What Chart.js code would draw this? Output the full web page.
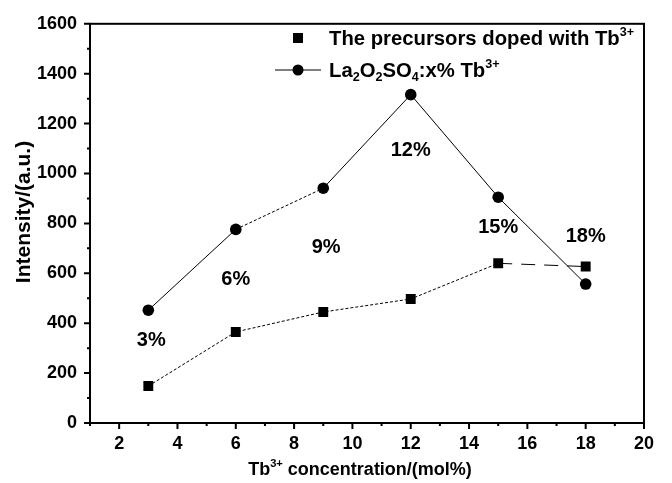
<!DOCTYPE html>
<html>
<head>
<meta charset="utf-8">
<script src="https://cdn.jsdelivr.net/npm/chart.js@4.4.0/dist/chart.umd.min.js"></script>
<style>
  html, body { margin: 0; padding: 0; background: #fff; }
  #wrap { width: 672px; height: 483px; }
</style>
</head>
<body>
<div id="wrap"><canvas id="chart"></canvas></div>
<script>
// Tb3+ concentration (mol%)
const conc = [3, 6, 9, 12, 15, 18];
// intensities
const precursor = [148, 365, 445, 497, 640, 627];
const oxysulfate = [452, 776, 941, 1316, 905, 557];
// percentage labels written inside the plot
const pctLabels = ["3%", "6%", "9%", "12%", "15%", "18%"];
const pctLabelX = [3.1, 6, 9.1, 12, 15, 18];
const pctLabelY = [330, 576, 703, 1092, 782, 746];

const FONT = "'Liberation Sans', Arial, sans-serif";

// text with super/subscripts: [text, 0 normal | 1 sup | -1 sub]
const legendText1 = [["The precursors doped with Tb", 0], ["3+", 1]];
const legendText2 = [["La", 0], ["2", -1], ["O", 0], ["2", -1], ["SO", 0], ["4", -1], [":x% Tb", 0], ["3+", 1]];
const xTitle = [["Tb", 0], ["3+", 1], [" concentration/(mol%)", 0]];
const yTitle = [["Intensity/(a.u.)", 0]];

function richWidth(ctx, parts, size) {
  let w = 0;
  for (const [t, m] of parts) {
    ctx.font = "bold " + (m ? size * 0.62 : size) + "px " + FONT;
    w += ctx.measureText(t).width;
  }
  return w;
}

function drawRich(ctx, parts, x, y, size) {
  ctx.textBaseline = "alphabetic";
  ctx.textAlign = "left";
  for (const [t, m] of parts) {
    const s = m ? size * 0.62 : size;
    ctx.font = "bold " + s + "px " + FONT;
    const dy = m === 1 ? -size * 0.45 : m === -1 ? size * 0.22 : 0;
    ctx.fillText(t, x, y + dy);
    x += ctx.measureText(t).width;
  }
}

const extras = {
  id: "extras",
  afterDraw(chart) {
    const ctx = chart.ctx;
    const a = chart.chartArea;
    const xs = chart.scales.x, ys = chart.scales.y;
    ctx.save();
    ctx.strokeStyle = "#000";
    ctx.fillStyle = "#000";
    ctx.lineWidth = 2;
    ctx.strokeRect(a.left, a.top, a.right - a.left, a.bottom - a.top);

    // tick marks, outward
    ctx.beginPath();
    for (let v = 1; v <= 20; v++) {
      const px = xs.getPixelForValue(v);
      const len = v % 2 === 0 ? 6 : 3;
      ctx.moveTo(px, a.bottom);
      ctx.lineTo(px, a.bottom + len);
    }
    for (let v = 0; v <= 1600; v += 100) {
      const py = ys.getPixelForValue(v);
      const len = v % 200 === 0 ? 6 : 3;
      ctx.moveTo(a.left, py);
      ctx.lineTo(a.left - len, py);
    }
    ctx.stroke();

    // percentage labels
    ctx.font = "bold 20px " + FONT;
    ctx.textAlign = "center";
    ctx.textBaseline = "middle";
    pctLabels.forEach((t, i) => {
      ctx.fillText(t, xs.getPixelForValue(pctLabelX[i]), ys.getPixelForValue(pctLabelY[i]));
    });

    // axis titles
    const xw = richWidth(ctx, xTitle, 18);
    drawRich(ctx, xTitle, 360 - xw / 2, 475, 18);
    ctx.save();
    ctx.translate(30, 212);
    ctx.rotate(-Math.PI / 2);
    const yw = richWidth(ctx, yTitle, 21);
    drawRich(ctx, yTitle, -yw / 2, 0, 21);
    ctx.restore();

    // legend
    ctx.fillRect(298 - 5, 38 - 5, 10, 10);
    drawRich(ctx, legendText1, 329, 45, 20.3);
    ctx.lineWidth = 1;
    ctx.beginPath();
    ctx.moveTo(275, 70);
    ctx.lineTo(321, 70);
    ctx.stroke();
    ctx.beginPath();
    ctx.arc(298, 70, 5.5, 0, Math.PI * 2);
    ctx.fill();
    drawRich(ctx, legendText2, 329, 77, 20.3);
    ctx.restore();
  }
};

new Chart(document.getElementById("chart"), {
  type: "line",
  plugins: [extras],
  data: {
    datasets: [
      {
        label: "The precursors doped with Tb3+",
        data: conc.map((x, i) => ({ x: x, y: precursor[i] })),
        borderColor: "#000",
        backgroundColor: "#000",
        borderWidth: 1,
        pointStyle: "rect",
        pointRadius: 7,
        pointBorderWidth: 0,
        segment: {
          borderDash: (c) => (c.p0DataIndex === 4 ? [14, 9] : [3, 2]),
        },
      },
      {
        label: "La2O2SO4:x% Tb3+",
        data: conc.map((x, i) => ({ x: x, y: oxysulfate[i] })),
        borderColor: "#000",
        backgroundColor: "#000",
        borderWidth: 1,
        pointStyle: "circle",
        pointRadius: 5.8,
        pointBorderWidth: 0,
        segment: {
          borderDash: (c) => (c.p0DataIndex === 1 ? [3, 2] : []),
        },
      },
    ],
  },
  options: {
    responsive: true,
    maintainAspectRatio: false,
    animation: false,
    layout: { padding: { top: 20, right: 28, left: 0, bottom: 0 } },
    plugins: {
      legend: { display: false },
      tooltip: { enabled: false },
    },
    scales: {
      x: {
        type: "linear",
        min: 1,
        max: 20,
        afterFit: (s) => { s.height = 60; },
        grid: { display: false, drawTicks: false, tickLength: 0 },
        border: { display: false },
        ticks: {
          stepSize: 1,
          autoSkip: false,
          maxRotation: 0,
          padding: 10,
          color: "#000",
          font: { family: FONT, size: 18, weight: "bold" },
          callback: (v) => (v % 2 === 0 ? v : ""),
        },
      },
      y: {
        min: 0,
        max: 1600,
        afterFit: (s) => { s.width = 90; },
        grid: { display: false, drawTicks: false, tickLength: 0 },
        border: { display: false },
        ticks: {
          stepSize: 100,
          autoSkip: false,
          padding: 13,
          color: "#000",
          font: { family: FONT, size: 18, weight: "bold" },
          callback: (v) => (v % 200 === 0 ? v : ""),
        },
      },
    },
  },
});
</script>
</body>
</html>
